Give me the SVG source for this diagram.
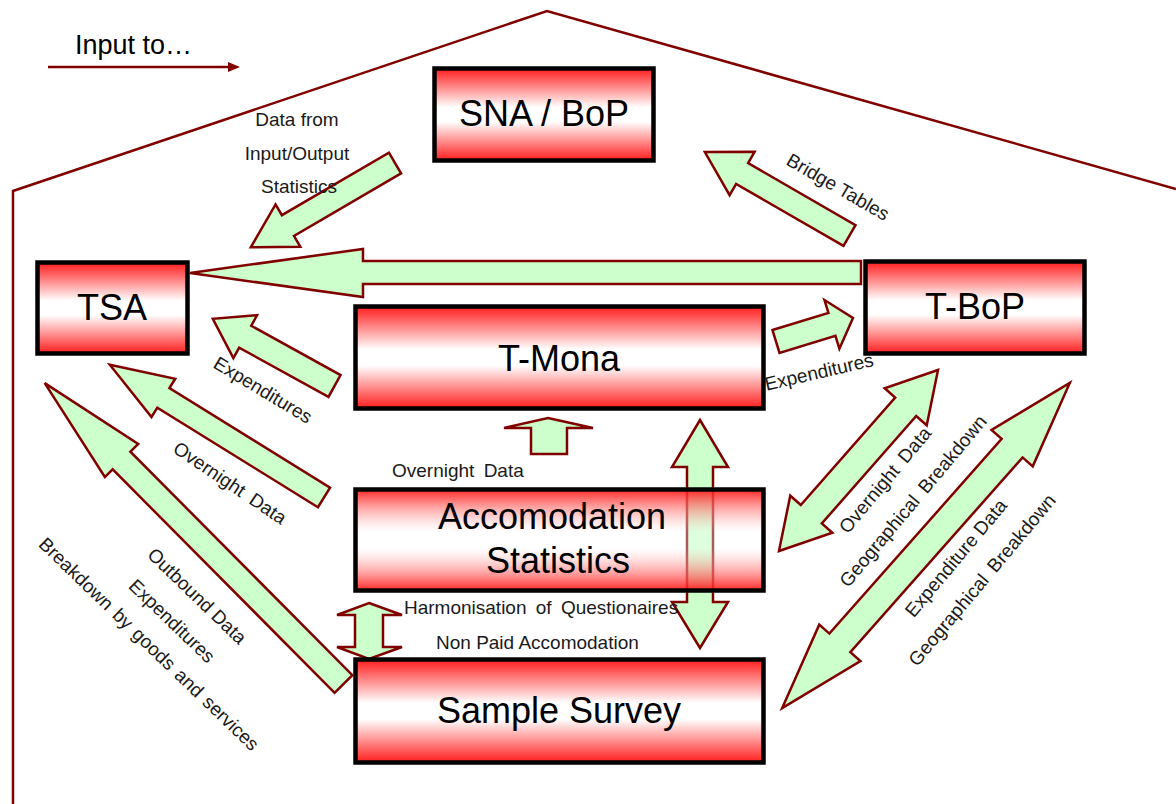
<svg xmlns="http://www.w3.org/2000/svg" width="1176" height="804" viewBox="0 0 1176 804">
<style>
.frame{fill:none;stroke:#800000;stroke-width:2.5}
.arrow{fill:#ccffcc;stroke:#800000;stroke-width:2.5;stroke-linejoin:miter}
.box{stroke:#000;stroke-width:4.5;fill:url(#redgrad)}
.boxT{stroke:#000;stroke-width:4.5;fill:url(#redgradT)}
.big{font-family:"Liberation Sans",Arial,sans-serif;font-size:36px;fill:#000;text-anchor:middle}
.lbl{font-family:"Liberation Sans",Arial,sans-serif;font-size:19px;fill:#1a1a1a}
.mid{text-anchor:middle}
</style>
<defs>
<linearGradient id="redgrad" x1="0" y1="0" x2="0" y2="1">
<stop offset="0" stop-color="#ff1c1c"/>
<stop offset="0.42" stop-color="#ffffff"/>
<stop offset="0.58" stop-color="#ffffff"/>
<stop offset="1" stop-color="#ff1c1c"/>
</linearGradient>
<linearGradient id="redgradT" x1="0" y1="0" x2="0" y2="1">
<stop offset="0" stop-color="#ff1414" stop-opacity="0.92"/>
<stop offset="0.42" stop-color="#ffffff" stop-opacity="0.35"/>
<stop offset="0.58" stop-color="#ffffff" stop-opacity="0.35"/>
<stop offset="1" stop-color="#ff1414" stop-opacity="0.92"/>
</linearGradient>
</defs>
<rect width="1176" height="804" fill="#ffffff"/>
<polyline class="frame" points="13,804 13,191 547,11 1176,189"/>
<g id="legend">
<text class="lbl" x="75" y="54" style="font-size:27px;fill:#000">Input to…</text>
<line x1="48" y1="67" x2="230" y2="67" stroke="#800000" stroke-width="2.5"/>
<polygon points="228,62 240,67 228,72" fill="#800000"/>
</g>
<g id="connectors">
<polygon id="c-tbop-tsa" class="arrow" points="190,273 363,249 363,261 861,261 861,284 363,284 363,297"/>
<polygon id="c-sna-tsa" class="arrow" transform="translate(395,163) rotate(149.7)" points="0,-12 124,-12 124,-24.5 167,0 124,24.5 124,12 0,12"/>
<polygon id="c-tbop-sna" class="arrow" transform="translate(849.5,235.5) rotate(-150)" points="0,-12 124,-12 124,-25 167,0 124,25 124,12 0,12"/>
<polygon id="c-tmona-tsa" class="arrow" transform="translate(334.5,386) rotate(-151.1)" points="0,-12.5 102,-12.5 102,-24.5 139,0 102,24.5 102,12.5 0,12.5"/>
<polygon id="c-accom-tsa" class="arrow" transform="translate(324,497.5) rotate(-148.2)" points="0,-11.5 189,-11.5 189,-22.5 252,0 189,22.5 189,11.5 0,11.5"/>
<polygon id="c-survey-tsa" class="arrow" transform="translate(343.5,684) rotate(-134.8)" points="0,-12.5 315,-12.5 315,-23.5 424,0 315,23.5 315,12.5 0,12.5"/>
<polygon id="c-tmona-tbop" class="arrow" transform="translate(776,341.5) rotate(-17)" points="0,-12 58.5,-12 58.5,-25.5 80.5,0 58.5,25.5 58.5,12 0,12"/>
<polygon id="c-accom-tmona" class="arrow" points="548,418 593,428 567,428 567,454 531,454 531,428 504,428"/>
<polygon id="c-tmona-survey" class="arrow" points="700,420 728,467 713,467 713,602 728,602 700,648 672,602 687,602 687,467 672,467"/>
<polygon id="c-accom-survey" class="arrow" points="369,603 402,615 383,615 383,647 402,647 369,659 337,647 355,647 355,615 337,615"/>
<polygon id="c-tbop-accom" class="arrow" transform="translate(858.5,460.5) rotate(-48.7)" points="-120.5,0 -71.5,-28 -71.5,-14 71.5,-14 71.5,-28 120.5,0 71.5,28 71.5,14 -71.5,14 -71.5,28"/>
<polygon id="c-tbop-survey" class="arrow" transform="translate(926,545.5) rotate(-48.5)" points="-217,0 -130,-27.5 -130,-14 130,-14 130,-27.5 217,0 130,27.5 130,14 -130,14 -130,27.5"/>
</g>
<g id="sna">
<rect class="box" x="434.5" y="68.5" width="219" height="92"/>
<text class="big" x="544" y="126">SNA / BoP</text>
</g>
<g id="tsa">
<rect class="box" x="37.5" y="262.5" width="150" height="91"/>
<text class="big" x="112" y="320">TSA</text>
</g>
<g id="tbop">
<rect class="box" x="865.5" y="261.5" width="219" height="92"/>
<text class="big" x="975" y="319">T-BoP</text>
</g>
<g id="tmona">
<rect class="box" x="355.5" y="306.5" width="408" height="102"/>
<text class="big" x="559" y="371">T-Mona</text>
</g>
<g id="accom">
<rect class="boxT" x="355.5" y="489.5" width="408" height="101"/>
<text class="big" x="552" y="529">Accomodation</text>
<text class="big" x="558" y="573">Statistics</text>
</g>
<g id="survey">
<rect class="box" x="355.5" y="659.5" width="408" height="103"/>
<text class="big" x="559" y="723">Sample Survey</text>
</g>
<g id="labels">
<text class="lbl mid" x="297" y="126">Data from</text>
<text class="lbl mid" x="297" y="160">Input/Output</text>
<text class="lbl mid" x="299" y="193">Statistics</text>
<text class="lbl mid" transform="translate(838,187) rotate(30)" y="6.5">Bridge Tables</text>
<text class="lbl mid" transform="translate(263,390) rotate(31)" y="6.5">Expenditures</text>
<text class="lbl mid" transform="translate(230,483) rotate(34)" y="6.5" word-spacing="4">Overnight Data</text>
<text class="lbl mid" transform="translate(197,596) rotate(44)" y="6.5">Outbound Data</text>
<text class="lbl mid" transform="translate(172,621) rotate(44)" y="6.5">Expenditures</text>
<text class="lbl mid" transform="translate(149,644) rotate(44)" y="6.5" word-spacing="2">Breakdown by goods and services</text>
<text class="lbl mid" transform="translate(819,372) rotate(-13)" y="6.5">Expenditures</text>
<text class="lbl mid" transform="translate(885,480) rotate(-50)" y="6.5" word-spacing="4">Overnight Data</text>
<text class="lbl mid" transform="translate(913,501) rotate(-50)" y="6.5" word-spacing="4">Geographical Breakdown</text>
<text class="lbl mid" transform="translate(956,558) rotate(-50)" y="6.5">Expenditure Data</text>
<text class="lbl mid" transform="translate(982,580) rotate(-50)" y="6.5" word-spacing="4">Geographical Breakdown</text>
<text class="lbl" x="392" y="477" word-spacing="4">Overnight Data</text>
<text class="lbl" x="404" y="614" word-spacing="4">Harmonisation of Questionaires</text>
<text class="lbl" x="436" y="649">Non Paid Accomodation</text>
</g>
</svg>
